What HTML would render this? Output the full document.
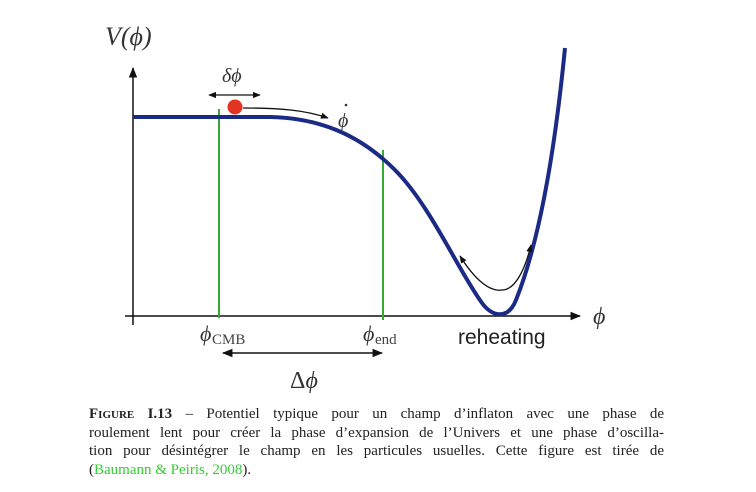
<!DOCTYPE html>
<html><head><meta charset="utf-8"><style>
body{margin:0;background:#fff;width:756px;height:492px;overflow:hidden;position:relative}
.cap{position:absolute;left:89px;top:405px;width:575px;font-family:"Liberation Serif",serif;font-size:15px;line-height:18.7px;color:#222}
.cap div{text-align:justify;text-align-last:justify;white-space:nowrap}
.cap div.l{text-align-last:left}
.g{color:#3c3}
</style></head><body>
<svg width="756" height="400" style="position:absolute;left:0;top:0">
<defs>
<marker id="a" viewBox="0 0 10 10" refX="9" refY="5" markerWidth="7" markerHeight="7" orient="auto-start-reverse"><path d="M0,1 L10,5 L0,9 z" fill="#111"/></marker>
<marker id="b" viewBox="0 0 10 10" refX="9" refY="5" markerWidth="6" markerHeight="6" orient="auto-start-reverse"><path d="M0,1 L10,5 L0,9 z" fill="#111"/></marker>
</defs>
<line x1="133" y1="325" x2="133" y2="68" stroke="#111" stroke-width="1.5" marker-end="url(#a)"/>
<line x1="125" y1="316" x2="580" y2="316" stroke="#111" stroke-width="1.5" marker-end="url(#a)"/>
<line x1="219" y1="109" x2="219" y2="318" stroke="#3a3" stroke-width="2"/>
<line x1="383" y1="150" x2="383" y2="320" stroke="#3a3" stroke-width="2"/>
<path d="M133,117 L270,117 C320,118 360,135 395,170 C430,205 458,270 482,303 C492,317 508,320 516,300 C536,250 553,170 565,48" fill="none" stroke="#1b2a85" stroke-width="4"/>
<circle cx="235" cy="107" r="7.5" fill="#e53323"/>
<line x1="209" y1="95" x2="260" y2="95" stroke="#111" stroke-width="1.3" marker-start="url(#b)" marker-end="url(#b)"/>
<path d="M243,108 C280,108 305,110 328,118" fill="none" stroke="#111" stroke-width="1.3" marker-end="url(#b)"/>
<path d="M460,256 C475,280 490,292 502,290 C515,290 525,270 531,245" fill="none" stroke="#111" stroke-width="1.3" marker-start="url(#b)" marker-end="url(#b)"/>
<line x1="223" y1="353" x2="382" y2="353" stroke="#111" stroke-width="1.5" marker-start="url(#a)" marker-end="url(#a)"/>
<g font-family="Liberation Serif,serif" fill="#333" font-style="italic">
<text x="105" y="45" font-size="26">V(ϕ)</text>
<text x="222" y="82" font-size="20">δϕ</text>
<text x="338" y="127" font-size="20">ϕ</text>
<circle cx="346" cy="105" r="1.3" fill="#333"/>
<text x="593" y="324" font-size="24">ϕ</text>
<text x="200" y="341" font-size="22">ϕ</text>
<text x="363" y="341" font-size="22">ϕ</text>
<text x="290" y="388" font-size="24"><tspan font-style="normal">Δ</tspan>ϕ</text>
</g>
<g font-family="Liberation Serif,serif" fill="#444" font-size="15">
<text x="212" y="344">CMB</text>
<text x="375" y="344">end</text>
</g>
<text x="458" y="344" font-family="Liberation Sans,sans-serif" font-size="21" fill="#222">reheating</text>
</svg>
<div class="cap">
<div><b style="font-variant:small-caps">Figure I.13</b> – Potentiel typique pour un champ d’inflaton avec une phase de</div>
<div>roulement lent pour créer la phase d’expansion de l’Univers et une phase d’oscilla-</div>
<div>tion pour désintégrer le champ en les particules usuelles. Cette figure est tirée de</div>
<div class="l">(<span class="g">Baumann &amp; Peiris, 2008</span>).</div>
</div>
</body></html>
